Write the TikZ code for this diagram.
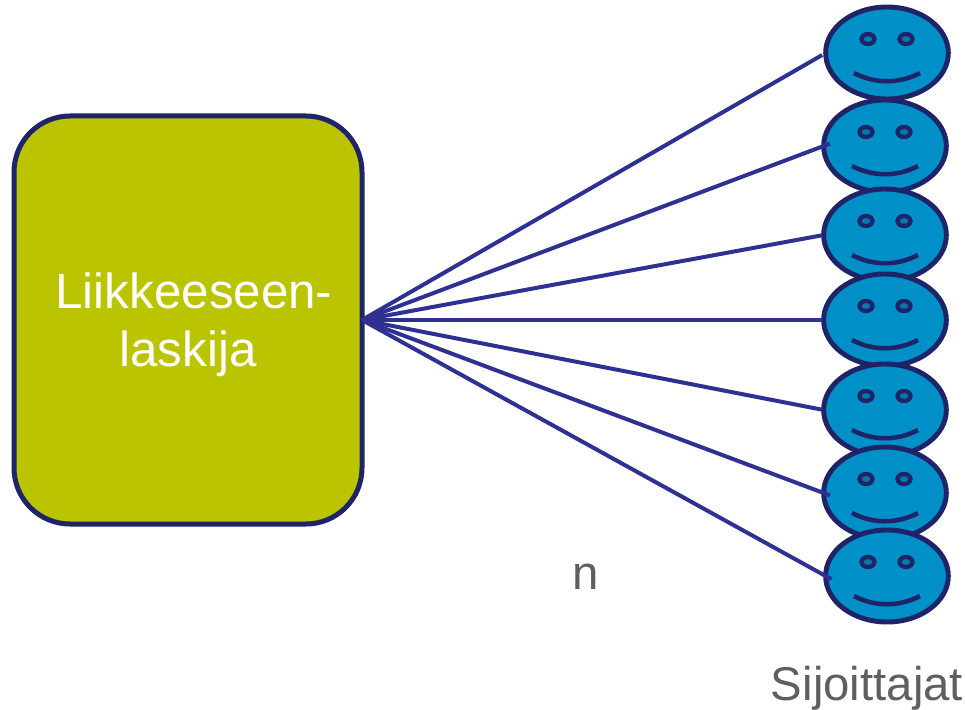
\documentclass[tikz,border=0pt]{standalone}
\usepackage{fontspec}
\setmainfont{Liberation Sans}
\usetikzlibrary{shapes.geometric}
\definecolor{outlineblue}{RGB}{31,36,104}
\definecolor{linkblue}{RGB}{46,49,146}
\definecolor{facefill}{RGB}{0,144,200}
\definecolor{boxfill}{RGB}{187,196,0}
\definecolor{labelgray}{RGB}{95,95,95}
\tikzset{
  issuerbox/.style={draw=outlineblue,fill=boxfill,line width=3.75pt,rounded corners=42pt,
    minimum width=261pt,minimum height=306pt,inner sep=0pt,outer sep=0pt,align=center,
    text=white,font=\fontsize{37}{43.5}\selectfont},
  facenode/.style={ellipse,draw=outlineblue,fill=facefill,line width=3.7pt,
    minimum width=92pt,minimum height=69pt,inner sep=0pt,outer sep=0pt},
  eyepart/.style={draw=outlineblue,fill=facefill!85!black,line width=3.2pt},
  smilepart/.style={draw=outlineblue,line width=3.4pt},
  linkline/.style={draw=linkblue,line width=3pt},
  graylabel/.style={text=labelgray,inner sep=0pt,font=\fontsize{35.5}{40}\selectfont}
}
\begin{document}
\begin{tikzpicture}[x=0.75pt,y=0.75pt,yscale=-1,xscale=1]
\useasboundingbox (0,0) rectangle (965,710);
\node [issuerbox] (issuer) at (188,320) {\rule{0pt}{34.5pt}\hspace{9pt}Liikkeeseen-\\laskija};
% faces, lower ones lie over upper ones
\foreach \i/\x/\y in {1/887/53,2/885/146,3/885/235,4/885/320,5/885/410,6/885/493,7/887/576}{
  \node [facenode] (face\i) at (\x,\y) {};
  \draw [eyepart] (\x-19,\y-14) ellipse (6.5 and 5);
  \draw [eyepart] (\x+19,\y-14) ellipse (6.5 and 5);
  \draw [smilepart] (\x-33,\y+20) .. controls (\x-12,\y+31) and (\x+12,\y+31) .. (\x+33,\y+20);
}
% connectors
\foreach \i/\gap in {1/3,2/-5,3/1,4/1,5/1,6/-5,7/-5}{
  \draw [linkline,shorten >=\gap pt] (issuer.east) -- (face\i.west);
}
\node [graylabel,anchor=base] (count) at (586,589) {n};
\node [graylabel,anchor=base] (investors) at (867,700) {Sijoittajat};
\end{tikzpicture}
\end{document}
